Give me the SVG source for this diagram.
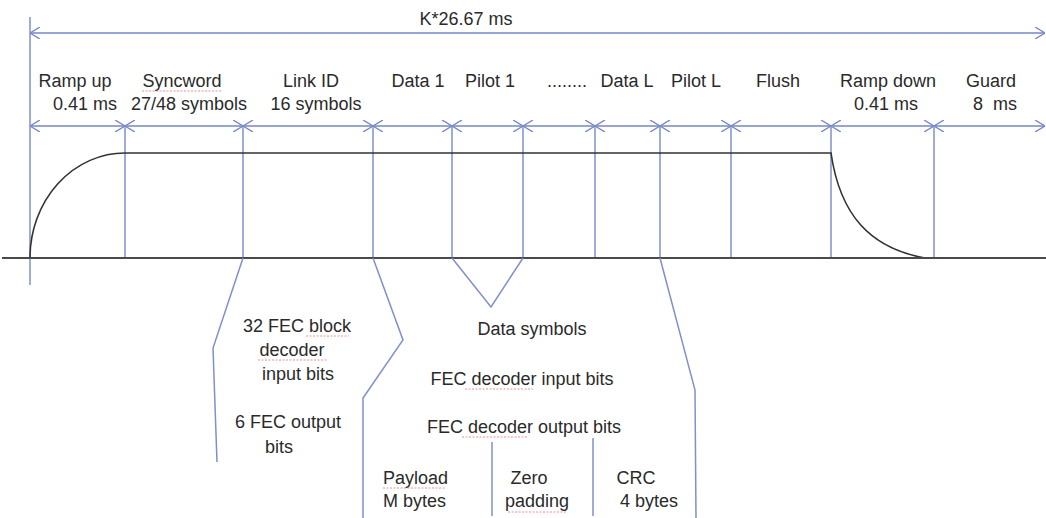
<svg xmlns="http://www.w3.org/2000/svg" width="1046" height="518" viewBox="0 0 1046 518">
<style>
text{font-family:"Liberation Sans",Arial,sans-serif;font-size:18px;fill:#2a2a2a}
.m{text-anchor:middle}
.dim{stroke:#7586c6;stroke-width:1.5;fill:none}
.tick{stroke:#7f8fcb;stroke-width:1.5;fill:none}
.sig{stroke:#333;stroke-width:1.6;fill:none}
.base{stroke:#4a4a4a;stroke-width:2.2;fill:none}
.lead{stroke:#8090c8;stroke-width:1.5;fill:none}
.sp{stroke:#e07a7a;stroke-width:1;stroke-dasharray:2 1.5;fill:none;opacity:.8}
</style>
<defs>
<marker id="ah" viewBox="0 0 10 12" refX="10" refY="6" markerWidth="10" markerHeight="12" markerUnits="userSpaceOnUse" orient="auto-start-reverse">
<path d="M0,0 L10,6 L0,12" fill="none" stroke="#7586c6" stroke-width="1.4"/>
</marker>
</defs>
<rect width="1046" height="518" fill="#fff"/>

<g id="connectors">
<!-- overall dimension -->
<line class="dim" x1="30" y1="33" x2="1045" y2="33" marker-start="url(#ah)" marker-end="url(#ah)"/>
<!-- segment dimensions -->
<g class="dim">
<line x1="30" y1="126" x2="125" y2="126" marker-start="url(#ah)" marker-end="url(#ah)"/>
<line x1="125" y1="126" x2="243" y2="126" marker-start="url(#ah)" marker-end="url(#ah)"/>
<line x1="243" y1="126" x2="373" y2="126" marker-start="url(#ah)" marker-end="url(#ah)"/>
<line x1="373" y1="126" x2="452" y2="126" marker-start="url(#ah)" marker-end="url(#ah)"/>
<line x1="452" y1="126" x2="523" y2="126" marker-start="url(#ah)" marker-end="url(#ah)"/>
<line x1="523" y1="126" x2="595" y2="126" marker-start="url(#ah)" marker-end="url(#ah)"/>
<line x1="595" y1="126" x2="660" y2="126" marker-start="url(#ah)" marker-end="url(#ah)"/>
<line x1="660" y1="126" x2="731" y2="126" marker-start="url(#ah)" marker-end="url(#ah)"/>
<line x1="731" y1="126" x2="831" y2="126" marker-start="url(#ah)" marker-end="url(#ah)"/>
<line x1="831" y1="126" x2="934" y2="126" marker-start="url(#ah)" marker-end="url(#ah)"/>
<line x1="934" y1="126" x2="1045" y2="126" marker-start="url(#ah)" marker-end="url(#ah)"/>
</g>
<!-- ticks -->
<g class="tick">
<line x1="30" y1="17" x2="30" y2="285"/>
<line x1="125" y1="126" x2="125" y2="258"/>
<line x1="243" y1="126" x2="243" y2="258"/>
<line x1="373" y1="126" x2="373" y2="258"/>
<line x1="452" y1="126" x2="452" y2="258"/>
<line x1="523" y1="126" x2="523" y2="258"/>
<line x1="595" y1="126" x2="595" y2="258"/>
<line x1="660" y1="126" x2="660" y2="258"/>
<line x1="731" y1="126" x2="731" y2="258"/>
<line x1="831" y1="126" x2="831" y2="258"/>
<line x1="934" y1="126" x2="934" y2="258"/>
</g>
<!-- signal envelope -->
<path class="sig" d="M30,258 A95,105 0 0 1 125,153 L831,153 C840,215 870,248 925,258"/>
<line class="base" x1="2" y1="258" x2="1046" y2="258"/>
<!-- leaders below -->
<g class="lead">
<polyline points="243,258 213,348 217,462"/>
<polyline points="373,258 403,340 363,398 363,518"/>
<polyline points="452,258 491,307 523,258"/>
<polyline points="660,258 695,390 696,518"/>
<line x1="492" y1="442" x2="492" y2="516"/>
<line x1="593" y1="438" x2="593" y2="516"/>
</g>
</g>

<g id="total"><text class="m" x="466" y="25">K*26.67 ms</text></g>
<g id="ramp-up"><text class="m" x="75" y="87">Ramp up</text><text class="m" x="85" y="110">0.41 ms</text></g>
<g id="syncword"><text class="m" x="182" y="87">Syncword</text><path class="sp" d="M142,91 H222"/><text class="m" x="189" y="110">27/48 symbols</text></g>
<g id="link-id"><text class="m" x="311" y="87">Link ID</text><text class="m" x="316" y="110">16 symbols</text></g>
<g id="data1"><text class="m" x="418" y="87">Data 1</text></g>
<g id="pilot1"><text class="m" x="490" y="87">Pilot 1</text></g>
<g id="dots"><text class="m" x="567" y="87">........</text></g>
<g id="dataL"><text class="m" x="627" y="87">Data L</text></g>
<g id="pilotL"><text class="m" x="696" y="87">Pilot L</text></g>
<g id="flush"><text class="m" x="778" y="87">Flush</text></g>
<g id="ramp-down"><text class="m" x="888" y="87">Ramp down</text><text class="m" x="886" y="110">0.41 ms</text></g>
<g id="guard"><text class="m" x="991" y="87">Guard</text><text class="m" x="995" y="110" xml:space="preserve">8  ms</text></g>

<g id="linkid-bits">
<text class="m" x="297" y="332">32 FEC block</text><path class="sp" d="M306,336 H349"/>
<text class="m" x="292" y="356">decoder</text><path class="sp" d="M258,360 H327"/>
<text class="m" x="298" y="380">input bits</text>
<text class="m" x="288" y="428">6 FEC output</text>
<text class="m" x="279" y="453">bits</text>
</g>
<g id="data-bits">
<text class="m" x="532" y="335">Data symbols</text>
<text class="m" x="522" y="385">FEC decoder input bits</text><path class="sp" d="M465,389 H533"/>
<text class="m" x="524" y="433">FEC decoder output bits</text><path class="sp" d="M462,437 H527"/>
</g>
<g id="payload"><text x="383" y="484">Payload</text><path class="sp" d="M383,488 H445"/><text x="383" y="507">M bytes</text></g>
<g id="zero-padding"><text class="m" x="529" y="484">Zero</text><text class="m" x="537" y="507">padding</text><path class="sp" d="M508,512 H567"/></g>
<g id="crc"><text class="m" x="636" y="484">CRC</text><text class="m" x="649" y="507">4 bytes</text></g>
</svg>
